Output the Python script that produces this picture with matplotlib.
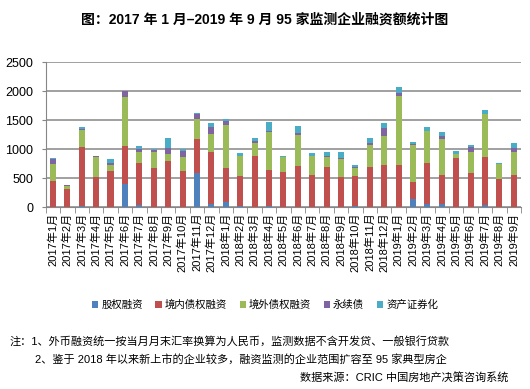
import numpy as np
import matplotlib.pyplot as plt

plt.rcParams['font.family'] = ['Liberation Sans', 'Noto Sans CJK SC']

months = ['2017年%d月' % m for m in range(1, 13)] + \
         ['2018年%d月' % m for m in range(1, 13)] + \
         ['2019年%d月' % m for m in range(1, 10)]

equity = [0, 0, 23, 0, 0, 403, 35, 0, 0, 0, 588, 58,
          92, 23, 0, 23, 0, 0, 0, 0, 0, 23, 0, 0,
          0, 138, 58, 58, 0, 0, 35, 0, 0]
domestic = [450, 311, 1014, 518, 622, 651, 725, 680, 795, 622, 587, 898,
            588, 518, 887, 622, 611, 714, 553, 691, 518, 513, 691, 726,
            726, 294, 702, 495, 847, 588, 829, 484, 553]
overseas = [293, 46, 293, 346, 98, 847, 190, 276, 121, 242, 346, 311,
            743, 346, 219, 657, 253, 530, 334, 173, 311, 138, 380, 501,
            1192, 639, 553, 622, 75, 362, 743, 259, 397]
perpetual = [86, 17, 18, 17, 40, 103, 46, 29, 104, 98, 86, 115,
             63, 0, 34, 17, 0, 35, 0, 17, 17, 11, 29, 138,
             52, 18, 0, 52, 0, 87, 0, 0, 70]
abs_sec = [18, 6, 40, 0, 69, 0, 58, 11, 172, 34, 17, 70,
           35, 46, 52, 156, 17, 127, 46, 75, 103, 41, 92, 87,
           104, 34, 69, 69, 46, 34, 69, 17, 86]

series = [('股权融资', equity, '#4F81BD'),
          ('境内债权融资', domestic, '#C0504D'),
          ('境外债权融资', overseas, '#9BBB59'),
          ('永续债', perpetual, '#8064A2'),
          ('资产证券化', abs_sec, '#4BACC6')]

fig = plt.figure(figsize=(5.3, 3.89), dpi=100)
ax = fig.add_axes([45.7 / 530, 1 - 207 / 389, (521 - 45.7) / 530, (207 - 62.3) / 389])

x = np.arange(len(months))
bottom = np.zeros(len(months))
for name, vals, color in series:
    ax.bar(x, vals, 0.42, bottom=bottom, color=color, label=name, zorder=3)
    bottom += np.array(vals)

ax.set_xlim(-0.5, len(months) - 0.5)
ax.set_ylim(0, 2500)
ax.set_yticks(range(0, 2501, 500))
ax.yaxis.grid(True, color='#868686', linewidth=1.1, zorder=0)
ax.tick_params(axis='y', labelsize=9, length=3, color='#868686', pad=6)
ax.set_xticks(x)
ax.set_xticklabels(months, rotation=90, fontsize=8)
ax.tick_params(axis='x', length=0, pad=4)
ax.set_xticks(np.arange(-0.5, len(months)), minor=True)
ax.tick_params(axis='x', which='minor', length=4, color='#868686')
for s in ['top', 'right']:
    ax.spines[s].set_visible(False)
ax.spines['left'].set_color('#868686')
ax.spines['bottom'].set_color('#868686')

fig.text(0.5, 1 - 20 / 389, '图：2017 年 1 月–2019 年 9 月 95 家监测企业融资额统计图',
         ha='center', va='center', fontsize=10, fontweight='bold')

fig.legend(loc='center', bbox_to_anchor=(0.5, 1 - 305 / 389), ncol=5, fontsize=7.5,
           frameon=False, handlelength=0.6, handleheight=0.6, handletextpad=0.3,
           columnspacing=1.2)

fig.text(10 / 530, 1 - 341 / 389,
         '注：1、外币融资统一按当月月末汇率换算为人民币，监测数据不含开发贷、一般银行贷款',
         ha='left', va='center', fontsize=8)
fig.text(35 / 530, 1 - 359 / 389,
         '2、鉴于 2018 年以来新上市的企业较多，融资监测的企业范围扩容至 95 家典型房企',
         ha='left', va='center', fontsize=8)
fig.text(508 / 530, 1 - 377 / 389, '数据来源：CRIC 中国房地产决策咨询系统',
         ha='right', va='center', fontsize=8)

fig.savefig('out.png', dpi=100)
